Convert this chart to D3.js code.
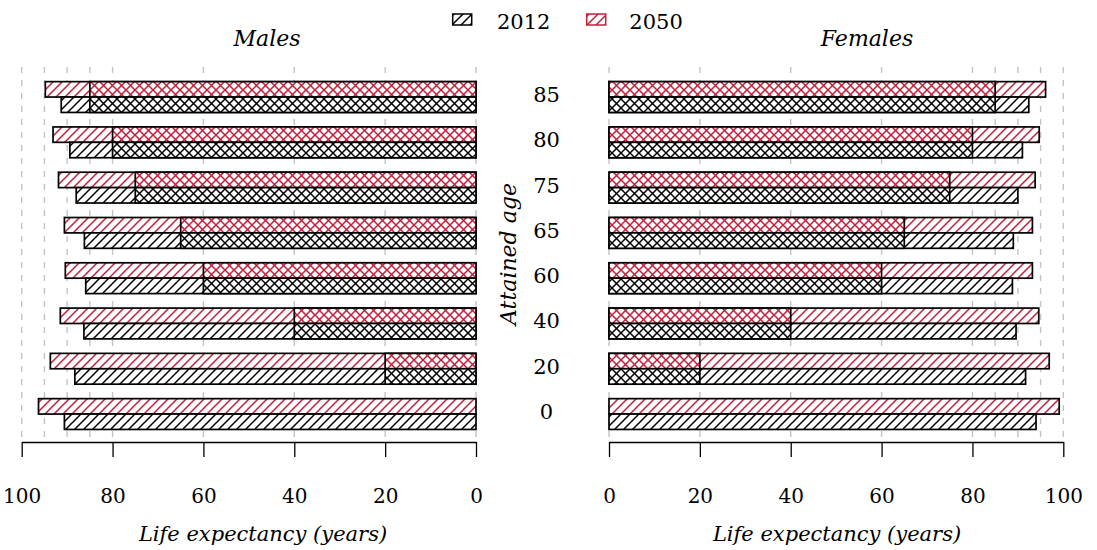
<!DOCTYPE html>
<html>
<head>
<meta charset="utf-8">
<script src="https://cdn.jsdelivr.net/npm/d3@7"></script>
<style>
  body { margin: 0; background: #fff; }
  svg text { font-family: "DejaVu Serif", serif; fill: #000; }
</style>
</head>
<body>
<div id="chart"></div>
<script>
// attained age categories, top to bottom
const ages = [85, 80, 75, 65, 60, 40, 20, 0];
const years = ["2050", "2012"];
// total life expectancy (age + remaining years)
const male2012 = [91.3, 89.4, 88.0, 86.2, 85.9, 86.3, 88.3, 90.6];
const male2050 = [94.8, 93.1, 91.9, 90.6, 90.4, 91.5, 93.7, 96.3];
const female2012 = [92.4, 91.0, 90.0, 89.0, 88.8, 89.6, 91.7, 94.0];
const female2050 = [96.1, 94.7, 93.8, 93.2, 93.2, 94.6, 96.9, 99.1];
const tickValues = [0, 20, 40, 60, 80, 100];
const gridValues = [0, 20, 40, 60, 80, 85, 90, 95, 100];

const w = 1097;
const h = 550;
const red = "#c41e3a";

const svg = d3.select("#chart").append("svg").attr("width", w).attr("height", h);

// hatch patterns
const defs = svg.append("defs");
function hatch(id, color, cross) {
  const s = 9;
  const p = defs
    .append("pattern")
    .attr("id", id)
    .attr("patternUnits", "userSpaceOnUse")
    .attr("width", s)
    .attr("height", s);
  p.append("rect").attr("width", s).attr("height", s).attr("fill", "#fff");
  p.append("path")
    .attr("d", `M0,${s} l${s},${-s} M${-s / 2},${s / 2} l${s},${-s} M${s / 2},${1.5 * s} l${s},${-s}`)
    .attr("stroke", color)
    .attr("stroke-width", 1.5);
  if (cross) {
    p.append("path")
      .attr("d", `M0,0 l${s},${s} M${-s / 2},${s / 2} l${s},${s} M${s / 2},${-s / 2} l${s},${s}`)
      .attr("stroke", color)
      .attr("stroke-width", 1.5);
  }
}
hatch("diag2012", "#000", false);
hatch("diag2050", red, false);
hatch("cross2012", "#000", true);
hatch("cross2050", red, true);

const y = d3
  .scaleBand()
  .domain(ages)
  .range([74.4, 436.7])
  .paddingInner(0.32)
  .paddingOuter(0.16);
const ySub = d3.scaleBand().domain(years).range([0, y.bandwidth()]);

const xMale = d3.scaleLinear().domain([0, 100]).range([476, 21.7]);
const xFemale = d3.scaleLinear().domain([0, 100]).range([609, 1063.3]);

const axisY = 442;

function panel(x, v2012, v2050, title, titleX, labelX) {
  const g = svg.append("g");
  // dashed grid
  g.selectAll("line.grid")
    .data(gridValues)
    .enter()
    .append("line")
    .attr("class", "grid")
    .attr("x1", (d) => x(d))
    .attr("x2", (d) => x(d))
    .attr("y1", 67)
    .attr("y2", axisY - 2)
    .attr("stroke", "#c4c4c4")
    .attr("stroke-width", 1.4)
    .attr("stroke-dasharray", "6,7");

  const rows = [];
  ages.forEach((a, i) => {
    rows.push({ age: a, year: "2050", le: v2050[i] });
    rows.push({ age: a, year: "2012", le: v2012[i] });
  });

  // full bar: diagonal hatch
  g.selectAll("rect.full")
    .data(rows)
    .enter()
    .append("rect")
    .attr("class", "full")
    .attr("x", (d) => Math.min(x(0), x(d.le)))
    .attr("width", (d) => Math.abs(x(d.le) - x(0)))
    .attr("y", (d) => y(d.age) + ySub(d.year))
    .attr("height", ySub.bandwidth())
    .attr("fill", (d) => "url(#diag" + d.year + ")")
    .attr("stroke", "#000")
    .attr("stroke-width", 1.7);

  // years already lived: cross hatch
  g.selectAll("rect.lived")
    .data(rows.filter((d) => d.age > 0))
    .enter()
    .append("rect")
    .attr("class", "lived")
    .attr("x", (d) => Math.min(x(0), x(d.age)))
    .attr("width", (d) => Math.abs(x(d.age) - x(0)))
    .attr("y", (d) => y(d.age) + ySub(d.year))
    .attr("height", ySub.bandwidth())
    .attr("fill", (d) => "url(#cross" + d.year + ")")
    .attr("stroke", "#000")
    .attr("stroke-width", 1.7);

  const ax = g
    .append("g")
    .attr("transform", "translate(0," + axisY + ")")
    .call(d3.axisBottom(x).tickValues(tickValues).tickSize(15).tickSizeOuter(0).tickPadding(12));
  ax.attr("font-family", null);
  ax.select(".domain").attr("stroke-width", 1.6);
  ax.selectAll(".tick line").attr("stroke-width", 1.3);
  ax.selectAll(".tick text")
    .attr("font-size", 20)
    .attr("dy", null)
    .attr("y", 61);

  svg
    .append("text")
    .attr("x", titleX)
    .attr("y", 46)
    .attr("text-anchor", "middle")
    .attr("font-style", "italic")
    .attr("font-size", 22)
    .text(title);

  svg
    .append("text")
    .attr("x", labelX)
    .attr("y", 541)
    .attr("text-anchor", "middle")
    .attr("font-style", "italic")
    .attr("font-size", 21)
    .text("Life expectancy (years)");
}

panel(xMale, male2012, male2050, "Males", 267, 263);
panel(xFemale, female2012, female2050, "Females", 867, 837);

// age labels in the middle
svg
  .selectAll("text.age")
  .data(ages)
  .enter()
  .append("text")
  .attr("class", "age")
  .attr("x", 546.5)
  .attr("y", (d) => y(d) + y.bandwidth() / 2 + 5)
  .attr("text-anchor", "middle")
  .attr("font-size", 21)
  .text((d) => d);

svg
  .append("text")
  .attr("transform", "translate(516,254) rotate(-90)")
  .attr("text-anchor", "middle")
  .attr("font-style", "italic")
  .attr("font-size", 22)
  .text("Attained age");

// legend
const legend = svg.append("g").attr("id", "legend");
const legendItems = [
  { year: "2012", rx: 452.7, tx: 497, stroke: "#000" },
  { year: "2050", rx: 586.7, tx: 629.3, stroke: red },
];
legendItems.forEach((d) => {
  legend
    .append("rect")
    .attr("x", d.rx)
    .attr("y", 14)
    .attr("width", 19)
    .attr("height", 11)
    .attr("fill", "url(#diag" + d.year + ")")
    .attr("stroke", d.stroke)
    .attr("stroke-width", 1.5);
  legend
    .append("text")
    .attr("x", d.tx)
    .attr("y", 29)
    .attr("font-size", 21)
    .text(d.year);
});
</script>
</body>
</html>
